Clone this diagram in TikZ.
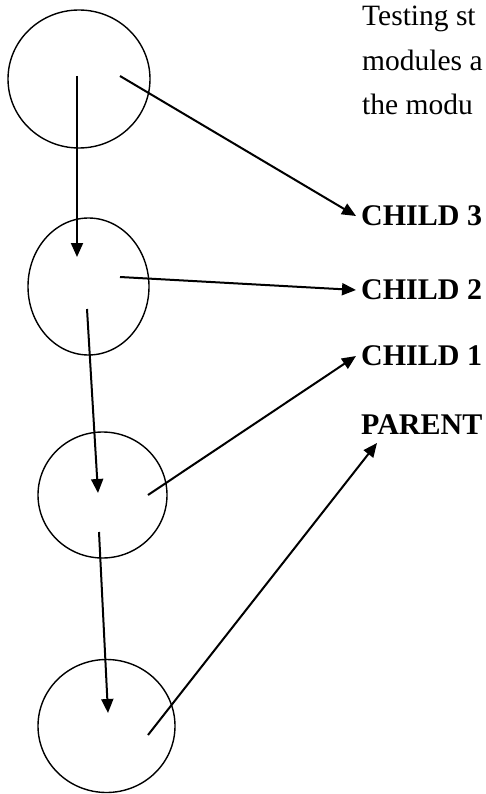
\documentclass[tikz,border=0pt]{standalone}
\usepackage{fontspec}
\setmainfont{Liberation Serif}
\usetikzlibrary{arrows.meta,shapes.geometric,calc}
\begin{document}
\begin{tikzpicture}[x=1pt,y=-1pt,
  circ/.style={draw,ellipse,line width=1.4pt,inner sep=0pt},
  conn/.style={line width=2pt,-{Triangle[length=14pt,width=12pt]}},
  para/.style={anchor=base west,inner sep=0pt,font=\fontsize{29.5}{35}\selectfont},
  lbl/.style={anchor=west,inner xsep=5pt,inner ysep=0pt,font=\fontsize{30}{35}\selectfont\bfseries}]
\useasboundingbox (0,0) rectangle (486,794);
% circles
\node[circ,minimum width=142pt,minimum height=138pt] (n1) at (79,79) {};
\node[circ,minimum width=121pt,minimum height=137pt] (n2) at (88.5,286.5) {};
\node[circ,minimum width=129pt,minimum height=126pt] (n3) at (102.5,495) {};
\node[circ,minimum width=137pt,minimum height=133pt] (n4) at (106.5,726) {};
% text
\node[para] (t1) at (362,26) {Testing st};
\node[para] (t2) at (362,71) {modules a};
\node[para] (t3) at (362,115) {the modu};
\node[lbl] (c3) at (356,216) {CHILD 3};
\node[lbl] (c2) at (356,290) {CHILD 2};
\node[lbl] (c1) at (356,356) {CHILD 1};
\node[lbl] (pa) at (356,425) {PARENT};
% connector end points
\coordinate (s1a) at (77,76);
\coordinate (s1b) at (120,76);
\coordinate (e1a) at (77,257);
\coordinate (s2a) at (120,277);
\coordinate (s2b) at (87,309);
\coordinate (e2b) at (98,493);
\coordinate (s3a) at (148,495);
\coordinate (s3b) at (99,532);
\coordinate (e3b) at (108,713);
\coordinate (s4a) at (148,735);
\coordinate (pt) at (377,443);
% connectors
\draw[conn] (s1a) -- (e1a);
\draw[conn] (s1b) -- (c3.west);
\draw[conn] (s2a) -- (c2.west);
\draw[conn] (s2b) -- (e2b);
\draw[conn] (s3a) -- (c1.west);
\draw[conn] (s3b) -- (e3b);
\draw[conn] (s4a) -- (pt);
\end{tikzpicture}
\end{document}
